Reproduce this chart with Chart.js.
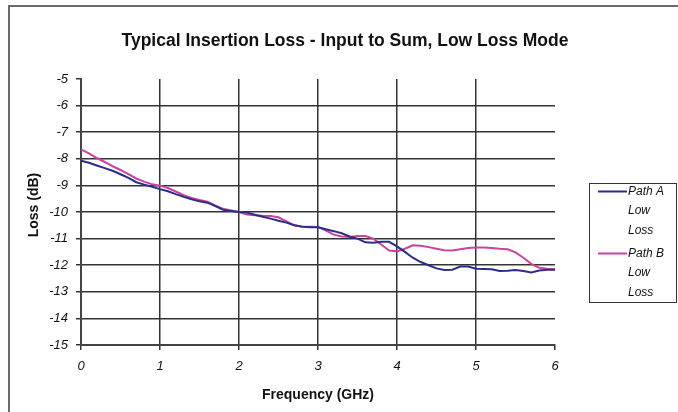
<!DOCTYPE html>
<html>
<head>
<meta charset="utf-8">
<script src="https://cdn.jsdelivr.net/npm/chart.js@4.4.1/dist/chart.umd.min.js"></script>
<style>
  html, body { margin: 0; padding: 0; background: #ffffff; }
  #wrap { position: relative; width: 678px; height: 412px; overflow: hidden; }
  #frame { position: absolute; left: 8px; top: 5px; width: 720px; height: 460px; border: 2px solid #6a6a6a; box-sizing: border-box; }
  canvas { position: absolute; left: 0; top: 0; }
</style>
</head>
<body>
<div id="wrap">
  <div id="frame"></div>
  <canvas id="c" width="678" height="412"></canvas>
</div>
<script>
const chartTitle = 'Typical Insertion Loss - Input to Sum, Low Loss Mode';
const xTitle = 'Frequency (GHz)';
const yTitle = 'Loss (dB)';
const seriesNames = [['Path A', 'Low', 'Loss'], ['Path B', 'Low', 'Loss']];

const freqGHz = [0.0, 0.1, 0.2, 0.3, 0.4, 0.5, 0.6, 0.7, 0.8, 0.9,
  1.0, 1.1, 1.2, 1.3, 1.4, 1.5, 1.6, 1.7, 1.8, 1.9,
  2.0, 2.1, 2.2, 2.3, 2.4, 2.5, 2.6, 2.7, 2.8, 2.9,
  3.0, 3.1, 3.2, 3.3, 3.4, 3.5, 3.6, 3.7, 3.8, 3.9,
  4.0, 4.1, 4.2, 4.3, 4.4, 4.5, 4.6, 4.7, 4.8, 4.9,
  5.0, 5.1, 5.2, 5.3, 5.4, 5.5, 5.6, 5.7, 5.8, 5.9, 6.0];

const lossPathA = [-8.07, -8.15, -8.25, -8.35, -8.45, -8.58, -8.72, -8.88, -8.97, -9.05,
  -9.14, -9.22, -9.33, -9.43, -9.52, -9.60, -9.65, -9.78, -9.92, -9.96,
  -10.00, -10.02, -10.10, -10.18, -10.25, -10.33, -10.40, -10.50, -10.55, -10.57,
  -10.57, -10.65, -10.72, -10.80, -10.92, -11.00, -11.14, -11.16, -11.12, -11.12,
  -11.29, -11.50, -11.72, -11.88, -12.00, -12.12, -12.18, -12.17, -12.05, -12.05,
  -12.13, -12.14, -12.15, -12.22, -12.21, -12.18, -12.22, -12.27, -12.20, -12.17, -12.17];

const lossPathB = [-7.65, -7.80, -7.97, -8.12, -8.28, -8.42, -8.58, -8.74, -8.86, -8.96,
  -9.01, -9.10, -9.23, -9.37, -9.47, -9.55, -9.61, -9.75, -9.88, -9.94,
  -10.00, -10.09, -10.12, -10.14, -10.15, -10.20, -10.35, -10.50, -10.55, -10.55,
  -10.56, -10.70, -10.85, -10.92, -10.94, -10.90, -10.90, -11.00, -11.22, -11.45,
  -11.48, -11.38, -11.25, -11.27, -11.32, -11.38, -11.44, -11.45, -11.40, -11.35,
  -11.33, -11.33, -11.35, -11.38, -11.40, -11.52, -11.72, -11.95, -12.10, -12.13, -12.15];

const seriesColors = ['#2b2e88', '#c9449c'];
const FONT = '"Liberation Sans", Arial, sans-serif';

function toPoints(xs, ys) { return xs.map((x, i) => ({ x: x, y: ys[i] })); }

const titlePlugin = {
  id: 'texts',
  afterDraw(chart) {
    const ctx = chart.ctx;
    ctx.save();
    ctx.font = 'bold 17.5px ' + FONT;
    ctx.fillStyle = '#111';
    ctx.textAlign = 'center';
    ctx.textBaseline = 'middle';
    ctx.fillText(chartTitle, 345, 41);
    ctx.translate(34, 205);
    ctx.rotate(-Math.PI / 2);
    ctx.font = 'bold 14px ' + FONT;
    ctx.fillText(yTitle, 0, 0);
    ctx.restore();
  }
};

const legendPlugin = {
  id: 'boxLegend',
  afterDraw(chart) {
    const ctx = chart.ctx;
    ctx.save();
    ctx.strokeStyle = '#333';
    ctx.lineWidth = 1;
    ctx.strokeRect(589.5, 183.5, 87, 119);
    ctx.font = 'italic 12px ' + FONT;
    ctx.textBaseline = 'middle';
    ctx.textAlign = 'left';
    const starts = [191.5, 253.5];
    chart.data.datasets.forEach((ds, i) => {
      const y0 = starts[i];
      ctx.strokeStyle = ds.borderColor;
      ctx.lineWidth = 2;
      ctx.beginPath();
      ctx.moveTo(598, y0);
      ctx.lineTo(627, y0);
      ctx.stroke();
      ctx.fillStyle = '#111';
      seriesNames[i].forEach((t, k) => {
        ctx.fillText(t, 628, y0 + k * 19.5);
      });
    });
    ctx.restore();
  }
};

new Chart(document.getElementById('c'), {
  type: 'line',
  data: {
    datasets: [
      { label: seriesNames[0].join(' '), data: toPoints(freqGHz, lossPathA), borderColor: seriesColors[0], backgroundColor: seriesColors[0], borderWidth: 2, pointRadius: 0, tension: 0, fill: false },
      { label: seriesNames[1].join(' '), data: toPoints(freqGHz, lossPathB), borderColor: seriesColors[1], backgroundColor: seriesColors[1], borderWidth: 2, pointRadius: 0, tension: 0, fill: false }
    ]
  },
  options: {
    responsive: false,
    animation: false,
    devicePixelRatio: 1,
    layout: { padding: { left: 0, top: 79, right: 123, bottom: 0 } },
    plugins: { legend: { display: false }, title: { display: false }, tooltip: { enabled: false } },
    scales: {
      x: {
        type: 'linear', min: 0, max: 6,
        afterFit(s) { s.height = 67; },
        ticks: { stepSize: 1, padding: 9, color: '#111', font: { family: FONT, size: 13, style: 'italic' } },
        grid: {
          color: (c) => (c.tick && (c.tick.value === 6 || c.tick.value === 0)) ? 'rgba(0,0,0,0)' : '#333',
          tickColor: '#333', lineWidth: 1.5, tickLength: 5
        },
        border: { color: '#444', width: 2 },
        title: { display: true, text: xTitle, color: '#111', padding: { top: 0, bottom: 8 }, font: { family: FONT, size: 14, weight: 'bold' } }
      },
      y: {
        min: -15, max: -5,
        afterFit(s) { s.width = 81; },
        ticks: { stepSize: 1, padding: 8, color: '#111', font: { family: FONT, size: 13, style: 'italic' } },
        grid: {
          color: (c) => (c.tick && (c.tick.value === -5 || c.tick.value === -15)) ? 'rgba(0,0,0,0)' : '#333',
          tickColor: '#333', lineWidth: 1.5, tickLength: 5
        },
        border: { color: '#444', width: 2 }
      }
    }
  },
  plugins: [titlePlugin, legendPlugin]
});
</script>
</body>
</html>
